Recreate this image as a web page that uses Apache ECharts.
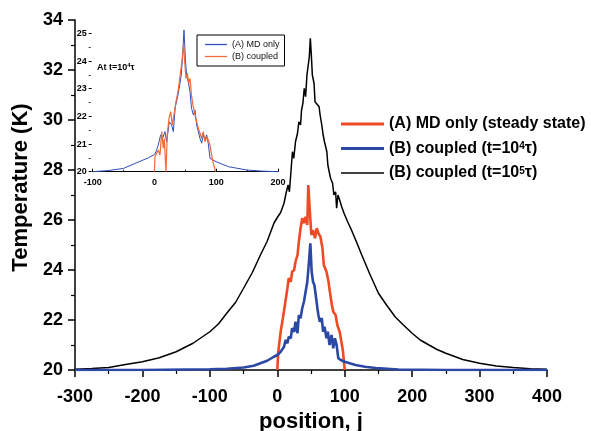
<!DOCTYPE html>
<html><head><meta charset="utf-8">
<script src="https://cdn.jsdelivr.net/npm/echarts@6/dist/echarts.min.js"></script>
<style>html,body{margin:0;padding:0;background:#fff}#c{width:591px;height:431px}</style>
</head><body><div id="c"></div>
<script>
// ---------- data ----------
const blackJ = [-300,-275,-250,-225,-200,-175,-150,-125,-100,-87,-75,-62,-50,-37,-25,-15,-5,0,5,10,13,16,18,21,22.5,24.5,27,30,32,34.5,36,38,40,42,44,46,47.5,49,50.5,52,54.5,56,58.5,62,63.5,66,68,70,72,73.5,75,77,79,82,84,86.5,88,90,92.5,95.5,99,104,110,117,125,137,150,162,175,187,200,212,225,237,250,275,300,325,350,375,400];
const blackT = [20.03,20.06,20.1,20.22,20.33,20.49,20.73,21.07,21.53,21.85,22.27,22.7,23.27,23.9,24.6,25.15,25.87,26.1,26.3,26.67,27.07,27.4,27.13,28.2,28.73,28.47,29.13,29.47,29.93,29.8,30.4,30.67,31.27,30.93,31.8,31.87,32.53,33.27,32.6,31.8,31.47,30.73,30.67,30.53,30.2,29.8,29.4,29.13,29.2,28.73,28.2,27.93,27.67,27.47,27.0,27.13,26.47,27.0,26.8,26.53,26.27,25.95,25.6,25.15,24.62,23.85,23.07,22.6,22.12,21.8,21.47,21.2,21.0,20.82,20.67,20.42,20.27,20.16,20.1,20.05,20.03];

const redJ = [0,1.5,5,8.3,11.3,15,17,20,22,25,27,30,32,34.5,37,39.5,42,44.5,46,48,50.5,53,56,58.5,61,64,67,69,73,76,78,81,83,86.5,89,92.5,95.5,97.5,100];
const redT = [20,20.73,21.53,22.07,22.6,23.27,23.67,23.53,23.93,24.0,24.33,24.6,25.13,25.67,26.07,25.87,26.13,25.8,27.4,26.47,25.4,25.6,25.27,25.67,25.47,25.33,24.87,24.2,23.93,23.53,23.13,22.6,22.33,22.2,21.8,21.53,21.07,20.73,20];

const blueJ = [-300,-200,-100,-75,-50,-35,-25,-15,-10,-5,0,5,10,12.3,15,17,20,22,25,27,30,32,34.5,37,39.5,42,44.5,47,49,51,53,55,57,59.5,61,63,66,68,70,73,75,77.5,80.5,83,85.5,88,90.5,94,100,116,130,146,180,250,400];
const blueT = [20.0,20.0,20.03,20.05,20.1,20.17,20.27,20.37,20.45,20.53,20.6,20.73,20.93,21.2,21.07,21.33,21.27,21.67,21.53,21.93,21.47,22.2,22.07,22.47,22.73,23.13,23.53,24.33,25.07,23.93,23.53,23.4,23.0,22.47,22.2,21.93,22.07,21.53,21.73,21.27,21.53,21.0,21.4,20.87,21.27,21.0,20.47,20.4,20.33,20.2,20.13,20.08,20.02,20.0,20.0];

const insetBlueJ = [-100,-75,-50,-25,-10,0,3,6,10,13,17,19.7,24,27.8,30.5,33.7,37,40,43.4,45.6,47.8,50,52,54.7,57.5,60,63,65.6,68.3,71,73.7,76.4,79,81.8,84.5,87,90,92.6,100,120,150,175,200];
const insetBlueT = [20.0,20.04,20.12,20.36,20.5,20.62,20.75,20.96,21.33,21.2,21.45,21.08,21.8,21.69,21.45,22.35,22.65,23.01,23.5,24.2,25.12,24.1,23.5,23.25,22.89,22.29,22.05,22.23,21.69,21.45,21.2,21.03,21.33,21.15,21.33,21.03,20.48,20.42,20.36,20.18,20.06,20.02,20.0];

const insetOrangeJ = [0,0.8,3.6,6.2,8.9,11.7,14.3,15.9,18.6,20.7,23.5,26.2,28.8,31.6,34.8,37.6,40.2,42.9,45,47.3,48.9,51,53.1,55.4,57.5,60.2,62.8,65.6,68.3,70.9,73.7,76.4,79,81.8,84.5,87.1,89.9,92.6,95.2,99];
const insetOrangeT = [20.0,20.54,20.48,20.78,20.6,21.45,20.85,21.2,20.0,21.33,21.93,22.17,21.69,22.05,22.53,22.83,23.25,23.31,24.1,24.58,23.98,23.37,23.56,23.19,23.37,22.71,22.35,22.05,21.81,21.57,21.39,21.2,21.45,21.08,21.26,21.15,20.96,20.6,20.3,20.0];

const mainNames = ['(A) MD only (steady state)','(B) coupled (t=10^4τ)','(B) coupled (t=10^5τ)'];
const insetNames = ['(A) MD only','(B) coupled'];
// ---------------------------------------------------

const zip = (a,b)=>a.map((v,i)=>[v,b[i]]);
const FF = '"Liberation Sans", Arial, Helvetica, sans-serif';
const chart = echarts.init(document.getElementById('c'), null, {renderer:'canvas'});

const legendFmt = function(name){
  if (name === mainNames[0]) return '{n|(A) MD only (steady state)}';
  if (name === mainNames[1]) return '{n|(B) coupled (t=10}{s|4}{n|τ)}';
  return '{n|(B) coupled (t=10}{s|5}{n|τ)}';
};
const thickIcon = 'path://M0,0h86v6h-86z';
const thinIcon = 'path://M0,0h86v3h-86z';
const insetIcon = 'path://M0,0h88v5h-88z';

chart.setOption({
  animation:false,
  backgroundColor:'#fff',
  textStyle:{fontFamily:FF},
  grid:[
    {left:75, right:44, top:20, bottom:61, containLabel:false, outerBoundsMode:'none'},
    {left:92.7, width:185.3, top:33.35, height:138.35, containLabel:false, outerBoundsMode:'none'}
  ],
  xAxis:[
    {gridIndex:0, type:'value', min:-300, max:400, interval:100,
     name:'position, j', nameLocation:'middle', nameGap:40,
     nameTextStyle:{fontSize:22, fontWeight:'bold', color:'#000', fontFamily:FF},
     axisLine:{show:true, onZero:false, lineStyle:{color:'#000', width:1.5}},
     axisTick:{show:true, inside:false, length:7, lineStyle:{color:'#000', width:1.5}},
     minorTick:{show:true, splitNumber:2, length:4, lineStyle:{color:'#000', width:1.2}},
     axisLabel:{fontSize:18, fontWeight:'bold', color:'#000', margin:18, fontFamily:FF},
     splitLine:{show:false}},
    {gridIndex:1, type:'value', min:-100, max:200, interval:100,
     axisLine:{show:true, onZero:false, lineStyle:{color:'#000', width:1}},
     axisTick:{show:true, inside:true, length:3, lineStyle:{color:'#000', width:1}},
     minorTick:{show:true, splitNumber:2, length:2, lineStyle:{color:'#000', width:0.8}},
     axisLabel:{fontSize:9, fontWeight:'bold', color:'#000', margin:6, fontFamily:FF},
     splitLine:{show:false}}
  ],
  yAxis:[
    {gridIndex:0, type:'value', min:20, max:34, interval:2,
     name:'Temperature (K)', nameLocation:'middle', nameGap:41,
     nameTextStyle:{fontSize:22, fontWeight:'bold', color:'#000', fontFamily:FF, padding:[0,0,0,15]},
     axisLine:{show:true, onZero:false, lineStyle:{color:'#000', width:1.5}},
     axisTick:{show:true, inside:false, length:7, lineStyle:{color:'#000', width:1.5}},
     minorTick:{show:true, splitNumber:2, length:4, lineStyle:{color:'#000', width:1.2}},
     axisLabel:{fontSize:18, fontWeight:'bold', color:'#000', margin:12, fontFamily:FF},
     splitLine:{show:false}},
    {gridIndex:1, type:'value', min:20, max:25, interval:1, offset:4,
     axisLine:{show:false, onZero:false},
     axisTick:{show:true, inside:true, length:3, lineStyle:{color:'#000', width:1}},
     minorTick:{show:true, splitNumber:2, length:2, lineStyle:{color:'#000', width:0.8}},
     axisLabel:{fontSize:9, fontWeight:'bold', color:'#000', margin:2, fontFamily:FF},
     splitLine:{show:false}}
  ],
  legend:[
    {data:[{name:mainNames[0], icon:thickIcon},{name:mainNames[1], icon:thickIcon},{name:mainNames[2], icon:thinIcon}],
     orient:'vertical', left:341, top:116, padding:0,
     itemWidth:43, itemHeight:14, itemGap:8.5, symbolKeepAspect:true,
     formatter:legendFmt,
     textStyle:{color:'#000', rich:{
       n:{fontSize:16, fontWeight:'bold', color:'#000', fontFamily:FF, lineHeight:14},
       s:{fontSize:10, fontWeight:'bold', color:'#000', fontFamily:FF, lineHeight:9, verticalAlign:'top'}
     }}},
    {data:[{name:insetNames[0], icon:insetIcon},{name:insetNames[1], icon:insetIcon}],
     orient:'vertical', left:197, top:35, padding:[5,5,5,8],
     borderColor:'#000', borderWidth:1, backgroundColor:'#fff',
     itemWidth:22, itemHeight:8, itemGap:3, itemStyle:{}, symbolKeepAspect:true,
     textStyle:{fontSize:9, color:'#111', fontFamily:FF}}
  ],
  graphic:[
    {type:'text', left:97, top:62, style:{
      text:'{a|At t=10}{s|4}{a|τ}',
      rich:{
        a:{fontSize:9, fontWeight:'bold', fill:'#000', fontFamily:FF, lineHeight:11},
        s:{fontSize:6, fontWeight:'bold', fill:'#000', fontFamily:FF, lineHeight:6, verticalAlign:'top'}
      }}}
  ],
  series:[
    {name:mainNames[2], type:'line', xAxisIndex:0, yAxisIndex:0, data:zip(blackJ,blackT),
     symbol:'none', showSymbol:false, z:3, lineStyle:{color:'#000', width:1.5}, itemStyle:{color:'#000'}},
    {name:mainNames[0], type:'line', xAxisIndex:0, yAxisIndex:0, data:zip(redJ,redT),
     symbol:'none', showSymbol:false, z:4, lineStyle:{color:'#ee4a23', width:2.6}, itemStyle:{color:'#ee4a23'}},
    {name:mainNames[1], type:'line', xAxisIndex:0, yAxisIndex:0, data:zip(blueJ,blueT),
     symbol:'none', showSymbol:false, z:5, lineStyle:{color:'#2c48a5', width:2.6}, itemStyle:{color:'#2c48a5'}},
    {name:insetNames[0], type:'line', xAxisIndex:1, yAxisIndex:1, data:zip(insetBlueJ,insetBlueT),
     symbol:'none', showSymbol:false, clip:false, z:6, lineStyle:{color:'#2f4fb8', width:1}, itemStyle:{color:'#2f4fb8'}},
    {name:insetNames[1], type:'line', xAxisIndex:1, yAxisIndex:1, data:zip(insetOrangeJ,insetOrangeT),
     symbol:'none', showSymbol:false, clip:false, z:7, lineStyle:{color:'#f2683a', width:1.2}, itemStyle:{color:'#f2683a'}}
  ]
});
</script></body></html>
